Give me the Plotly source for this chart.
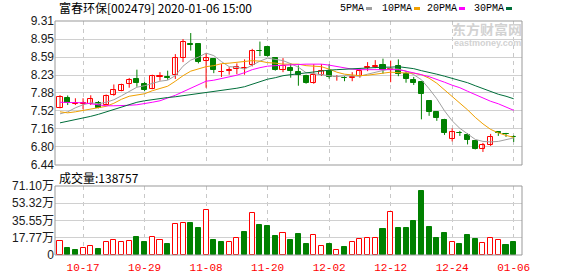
import plotly.graph_objects as go

# ---------------- data ----------------
dates = [
    "2019-10-14", "2019-10-15", "2019-10-16", "2019-10-17", "2019-10-18", "2019-10-21", "2019-10-22",
    "2019-10-23", "2019-10-24", "2019-10-25", "2019-10-28", "2019-10-29", "2019-10-30", "2019-10-31",
    "2019-11-01", "2019-11-04", "2019-11-05", "2019-11-06", "2019-11-07", "2019-11-08", "2019-11-11",
    "2019-11-12", "2019-11-13", "2019-11-14", "2019-11-15", "2019-11-18", "2019-11-19", "2019-11-20",
    "2019-11-21", "2019-11-22", "2019-11-25", "2019-11-26", "2019-11-27", "2019-11-28", "2019-11-29",
    "2019-12-02", "2019-12-03", "2019-12-04", "2019-12-05", "2019-12-06", "2019-12-09", "2019-12-10",
    "2019-12-11", "2019-12-12", "2019-12-13", "2019-12-16", "2019-12-17", "2019-12-18", "2019-12-19",
    "2019-12-20", "2019-12-23", "2019-12-24", "2019-12-25", "2019-12-26", "2019-12-27", "2019-12-30",
    "2019-12-31", "2020-01-02", "2020-01-03", "2020-01-06",
]
opens = [7.583, 7.78, 7.655, 7.665, 7.65, 7.67, 7.635, 7.835, 7.92, 8.055,
         8.145, 8.06, 7.96, 8.20, 8.20, 8.23, 8.57, 8.84, 8.85, 8.52,
         8.545, 8.29, 8.31, 8.35, 8.37, 8.43, 8.72, 8.79, 8.58, 8.33,
         8.38, 8.30, 8.22, 8.08, 8.24, 8.31, 8.185, 8.17, 8.17, 8.21,
         8.37, 8.39, 8.44, 8.33, 8.41, 8.255, 8.14, 8.095, 7.715, 7.49,
         7.34, 6.965, 7.08, 7.035, 6.92, 6.755, 6.845, 7.09, 7.06, 7.00]
highs = [7.833, 7.826, 7.77, 7.77, 7.83, 7.715, 7.845, 8.045, 8.06, 8.175,
         8.34, 8.10, 8.24, 8.29, 8.32, 8.65, 8.95, 9.07, 8.87, 8.67,
         8.57, 8.45, 8.39, 8.465, 8.545, 8.755, 8.90, 8.81, 8.59, 8.57,
         8.465, 8.425, 8.24, 8.45, 8.45, 8.45, 8.23, 8.21, 8.29, 8.37,
         8.49, 8.53, 8.56, 8.52, 8.545, 8.31, 8.195, 8.11, 7.73, 7.50,
         7.36, 7.17, 7.12, 7.075, 6.92, 6.88, 7.06, 7.11, 7.08, 7.03]
lows = [7.57, 7.635, 7.635, 7.55, 7.635, 7.57, 7.63, 7.82, 7.91, 7.98,
        8.00, 7.91, 7.95, 8.12, 8.14, 8.155, 8.49, 8.72, 8.465, 7.98,
        8.27, 8.195, 8.24, 8.25, 8.24, 8.405, 8.61, 8.60, 8.32, 8.29,
        8.18, 8.02, 8.06, 8.06, 8.215, 8.16, 8.12, 8.11, 8.11, 8.18,
        8.31, 8.37, 8.26, 8.09, 8.21, 8.08, 8.035, 7.35, 7.42, 7.32,
        7.04, 6.91, 7.02, 6.85, 6.75, 6.70, 6.82, 7.02, 7.00, 6.90]
closes = [7.79, 7.675, 7.67, 7.68, 7.755, 7.585, 7.82, 7.93, 8.04, 8.14,
          8.07, 7.93, 8.22, 8.22, 8.18, 8.57, 8.886, 8.83, 8.485, 8.57,
          8.33, 8.30, 8.33, 8.40, 8.38, 8.715, 8.71, 8.62, 8.33, 8.42,
          8.32, 8.24, 8.08, 8.235, 8.31, 8.185, 8.195, 8.165, 8.195, 8.31,
          8.39, 8.41, 8.34, 8.36, 8.26, 8.155, 8.075, 7.855, 7.505, 7.38,
          7.07, 7.10, 7.075, 6.93, 6.76, 6.845, 7.00, 7.08, 7.05, 6.99]
volumes = [142000, 69000, 56000, 76000, 97000, 59000, 131000, 159000, 131000, 142000,
           183000, 135000, 190000, 152000, 114000, 315000, 328000, 331000, 279000, 463000,
           152000, 135000, 131000, 180000, 235000, 432000, 307000, 297000, 194000, 225000,
           152000, 214000, 111000, 204000, 90000, 111000, 49000, 80000, 131000, 162000,
           173000, 173000, 266000, 442000, 276000, 276000, 349000, 659000, 287000, 173000,
           225000, 131000, 111000, 204000, 162000, 121000, 173000, 152000, 100000, 138757]

ma5 = [7.46, 7.50, 7.58, 7.64, 7.68, 7.66, 7.69, 7.74, 7.82, 7.90,
       7.99, 8.02, 8.07, 8.11, 8.13, 8.22, 8.41, 8.53, 8.59, 8.67,
       8.62, 8.50, 8.40, 8.39, 8.35, 8.43, 8.51, 8.57, 8.55, 8.52,
       8.46, 8.39, 8.28, 8.26, 8.24, 8.21, 8.20, 8.22, 8.21, 8.21,
       8.25, 8.29, 8.33, 8.36, 8.35, 8.31, 8.24, 8.14, 7.96, 7.76,
       7.52, 7.32, 7.17, 7.06, 6.95, 6.91, 6.90, 6.91, 6.94, 6.98]
ma10 = [7.50, 7.48, 7.50, 7.53, 7.55, 7.58, 7.61, 7.67, 7.75, 7.81,
        7.84, 7.86, 7.92, 7.97, 8.01, 8.11, 8.22, 8.31, 8.35, 8.40,
        8.42, 8.46, 8.47, 8.49, 8.51, 8.52, 8.51, 8.48, 8.47, 8.45,
        8.45, 8.45, 8.42, 8.41, 8.40, 8.35, 8.29, 8.25, 8.24, 8.22,
        8.23, 8.25, 8.27, 8.29, 8.28, 8.28, 8.27, 8.24, 8.17, 8.07,
        7.94, 7.81, 7.68, 7.54, 7.39, 7.26, 7.15, 7.08, 7.03, 6.99]
ma20 = [7.69, 7.69, 7.69, 7.68, 7.66, 7.64, 7.62, 7.62, 7.62, 7.63,
        7.64, 7.66, 7.69, 7.72, 7.77, 7.83, 7.90, 7.97, 8.05, 8.11,
        8.13, 8.16, 8.19, 8.23, 8.28, 8.34, 8.38, 8.41, 8.42, 8.43,
        8.44, 8.45, 8.45, 8.45, 8.45, 8.43, 8.40, 8.37, 8.35, 8.34,
        8.34, 8.35, 8.35, 8.35, 8.34, 8.31, 8.28, 8.24, 8.20, 8.15,
        8.09, 8.03, 7.98, 7.91, 7.84, 7.77, 7.71, 7.66, 7.60, 7.53]
ma30 = [7.28, 7.31, 7.34, 7.37, 7.41, 7.45, 7.50, 7.54, 7.60, 7.65,
        7.69, 7.72, 7.745, 7.765, 7.785, 7.80, 7.82, 7.84, 7.86, 7.88,
        7.90, 7.92, 7.94, 7.97, 8.00, 8.05, 8.10, 8.15, 8.18, 8.22,
        8.24, 8.26, 8.27, 8.29, 8.31, 8.33, 8.34, 8.35, 8.35, 8.36,
        8.37, 8.38, 8.39, 8.39, 8.40, 8.38, 8.36, 8.32, 8.29, 8.25,
        8.21, 8.17, 8.13, 8.08, 8.02, 7.96, 7.90, 7.85, 7.81, 7.76]

ma_names = ["5PMA", "10PMA", "20PMA", "30PMA"]
tick_dates = ["2019-10-17", "2019-10-29", "2019-11-08", "2019-11-20",
              "2019-12-02", "2019-12-12", "2019-12-24", "2020-01-06"]
tick_labels = ["10-17", "10-29", "11-08", "11-20", "12-02", "12-12", "12-24", "01-06"]
price_ticks = [6.44, 6.80, 7.16, 7.52, 7.88, 8.23, 8.59, 8.95, 9.31]
price_labels = ["6.44", "6.80", "7.16", "7.52", "7.88", "8.23", "8.59", "8.95", "9.31"]
vol_ticks = [0, 17.77, 35.55, 53.32, 71.10]
vol_labels = ["0", "17.77万", "35.55万", "53.32万", "71.10万"]
stock_title = "富春环保[002479] 2020-01-06 15:00"
vol_title = "成交量"
watermark_cn = "东方财富网"
watermark_en = "eastmoney.com"

# ---------------- styling ----------------
RED = "#ff0000"
GREEN = "#008000"
MA_COLORS = ["#a0a0a0", "#f0a000", "#ff00ff", "#006e3a"]
W, H = 578, 276
L, R, T, B = 55, 56, 21, 21
PW, PH = W - L - R, H - T - B


def px(x):
    return (x - L) / PW


def py(y):
    return (H - B - y) / PH


price_dom = [py(165), 1.0]
vol_dom = [0.0, py(186)]
xr = [-0.65, len(dates) - 1 + 1.08]

fig = go.Figure()

# wicks
for up in (True, False):
    xs, ys = [], []
    for d, o, h, l, c in zip(dates, opens, highs, lows, closes):
        if (c >= o) == up:
            xs += [d, d, None]
            ys += [l, h, None]
    fig.add_trace(go.Scatter(x=xs, y=ys, mode="lines", xaxis="x2", yaxis="y",
                             line=dict(color=RED if up else GREEN, width=1),
                             hoverinfo="skip", connectgaps=False))

# bodies
for up in (True, False):
    xs, base, hgt = [], [], []
    for d, o, c in zip(dates, opens, closes):
        if (c >= o) == up:
            xs.append(d)
            base.append(min(o, c))
            hgt.append(max(abs(c - o), 0.012))
    fig.add_trace(go.Bar(x=xs, y=hgt, base=base, xaxis="x2", yaxis="y", width=0.66,
                         marker=dict(color="white" if up else GREEN,
                                     line=dict(color=RED if up else GREEN, width=1))))

# moving averages
for name, vals, col in zip(ma_names, [ma5, ma10, ma20, ma30], MA_COLORS):
    fig.add_trace(go.Scatter(x=dates, y=vals, mode="lines", name=name, xaxis="x2", yaxis="y",
                             line=dict(color=col, width=1)))

# volume
for up in (True, False):
    xs, vs = [], []
    for i, (d, v) in enumerate(zip(dates, volumes)):
        is_up = i == 0 or closes[i] >= closes[i - 1]
        if is_up == up:
            xs.append(d)
            vs.append(v / 10000)
    fig.add_trace(go.Bar(x=xs, y=vs, xaxis="x", yaxis="y2", width=0.66,
                         marker=dict(color="white" if up else GREEN,
                                     line=dict(color=RED if up else GREEN, width=1))))

tickfont = dict(family="Liberation Sans, Noto Sans CJK SC", size=12, color="#1a1a1a")
vgrid = dict(showgrid=True, gridcolor="#c8c8c8", griddash="4px,4px", gridwidth=1)
cat = dict(type="category", categoryorder="array", categoryarray=dates, range=xr)

fig.update_layout(
    width=W, height=H, margin=dict(l=L, r=R, t=T, b=B, autoexpand=False),
    paper_bgcolor="white", plot_bgcolor="white", showlegend=False,
    barmode="overlay", bargap=0,
    xaxis=dict(domain=[0, 1], anchor="y2", tickvals=tick_dates, ticktext=tick_labels,
               ticks="", tickangle=0, ticklabelstandoff=4, automargin=False,
               tickfont=dict(family="Liberation Mono", size=11, color=RED),
               zeroline=False, showline=False, **cat, **vgrid),
    xaxis2=dict(domain=[0, 1], anchor="y", matches="x", automargin=False,
                tickvals=tick_dates, showticklabels=False, ticks="",
                zeroline=False, showline=False, **cat, **vgrid),
    yaxis=dict(domain=price_dom, anchor="x2", range=[6.44, 9.31], automargin=False,
               tickvals=price_ticks, ticktext=price_labels, ticks="",
               tickfont=tickfont, showgrid=True, gridcolor="#d0d0d0",
               zeroline=False, showline=False),
    yaxis2=dict(domain=vol_dom, anchor="x", range=[0, 71.10], automargin=False,
                tickvals=vol_ticks, ticktext=vol_labels, ticks="",
                tickfont=tickfont, showgrid=True, gridcolor="#d0d0d0",
                zeroline=False, showline=False),
)

shapes = []
for dom in (price_dom, vol_dom):
    shapes.append(dict(type="rect", xref="paper", yref="paper", x0=0, x1=1,
                       y0=dom[0], y1=dom[1], line=dict(color="#999999", width=1),
                       fillcolor="rgba(0,0,0,0)", layer="above"))

annotations = [
    dict(text=stock_title, x=px(57), y=py(8), xref="paper", yref="paper",
         xanchor="left", yanchor="middle", showarrow=False,
         font=dict(family="Noto Sans CJK SC", size=12, color="#000")),
    dict(text=f"{vol_title}:{volumes[-1]}", x=px(57), y=py(177), xref="paper", yref="paper",
         xanchor="left", yanchor="middle", showarrow=False,
         font=dict(family="Noto Sans CJK SC", size=12, color="#000")),
    dict(text=watermark_cn, x=px(487), y=py(28), xref="paper", yref="paper",
         xanchor="center", yanchor="middle", showarrow=False, height=15,
         font=dict(family="Noto Sans CJK SC", size=14, color="#d2d2d2", weight="bold")),
    dict(text=watermark_en, x=px(487), y=py(43), xref="paper", yref="paper",
         xanchor="center", yanchor="middle", showarrow=False, height=10,
         font=dict(family="Liberation Sans", size=9, color="#d2d2d2", weight="bold")),
]

legend_x = [338, 380, 425, 472]
for name, col, lx in zip(ma_names, MA_COLORS, legend_x):
    annotations.append(dict(text=name, x=px(lx), y=py(9), xref="paper", yref="paper",
                            xanchor="left", yanchor="middle", showarrow=False,
                            font=dict(family="Liberation Mono", size=10, color="#000")))
    sx = lx + len(name) * 6 + 4
    shapes.append(dict(type="rect", xref="paper", yref="paper",
                       x0=px(sx), x1=px(sx + 6), y0=py(10), y1=py(7),
                       line=dict(width=0), fillcolor=col))

fig.update_layout(shapes=shapes, annotations=annotations)

fig.write_html("out.html")
